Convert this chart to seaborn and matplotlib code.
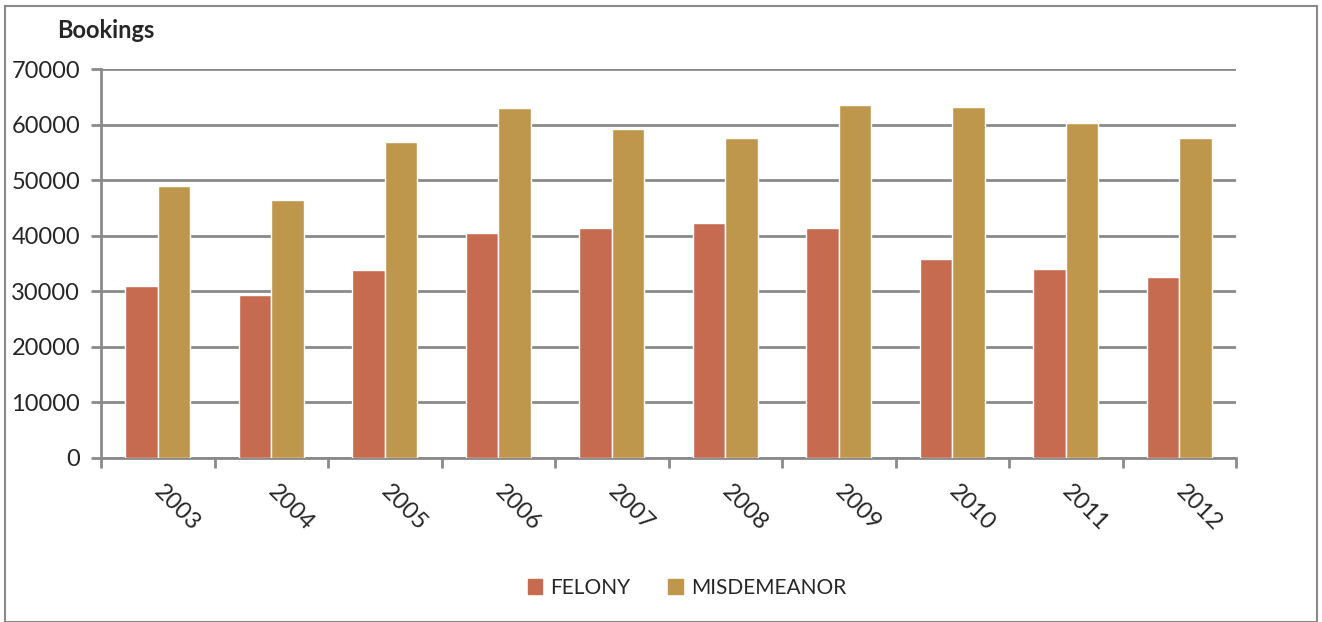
import numpy as np
import pandas as pd
import matplotlib
matplotlib.use("Agg")
import matplotlib.pyplot as plt
import matplotlib.patches as mpatches
import seaborn as sns

years = ["2003", "2004", "2005", "2006", "2007", "2008", "2009", "2010", "2011", "2012"]
felony = [31000, 29400, 33800, 40500, 41450, 42200, 41450, 35750, 33950, 32650]
misdemeanor = [49000, 46500, 56900, 63050, 59150, 57650, 63450, 63200, 60200, 57550]
series_names = ["FELONY", "MISDEMEANOR"]
colors = ["#C66A50", "#BF974C"]

df = pd.DataFrame({
    "year": years * 2,
    "bookings": felony + misdemeanor,
    "type": [series_names[0]] * len(years) + [series_names[1]] * len(years),
})

sns.set_style("white")
plt.rcParams["font.family"] = ["Lato", "DejaVu Sans"]

fig = plt.figure(figsize=(13.22, 6.22), dpi=100)
ax = fig.add_axes([101 / 1322, 1 - 458 / 622, 1135 / 1322, 389 / 622])

sns.barplot(data=df, x="year", y="bookings", hue="type", palette=colors,
            width=0.57, gap=0, saturation=1, ax=ax, legend=False, zorder=3)

ax.set_ylim(0, 70000)
ax.set_xlim(-0.5, len(years) - 0.5)
ax.set_yticks(np.arange(0, 70001, 10000))
ax.set_xlabel("")
ax.set_ylabel("")

# grid and spines
ax.grid(axis="y", color="#8a8a8a", linewidth=2, zorder=0)
ax.grid(axis="x", visible=False)
for s in ["top", "right"]:
    ax.spines[s].set_visible(False)
for s in ["left", "bottom"]:
    ax.spines[s].set_color("#8a8a8a")
    ax.spines[s].set_linewidth(2)

ax.tick_params(axis="y", which="major", left=True, length=7, width=2, color="#8a8a8a",
               labelsize=17, pad=8)
ax.set_xticks(np.arange(-0.5, len(years), 1), minor=True)
ax.tick_params(axis="x", which="minor", bottom=True, length=7, width=2, color="#8a8a8a")
ax.tick_params(axis="x", which="major", bottom=False, length=0, labelsize=17, pad=22)
for lbl in ax.get_xticklabels():
    lbl.set_rotation(-45)
    lbl.set_ha("left")
    lbl.set_va("center")
    lbl.set_rotation_mode("anchor")

fig.text(57 / 1322, 1 - 30 / 622, "Bookings", fontsize=17, fontweight="bold", va="center", ha="left")

handles = [mpatches.Patch(color=c, label=n) for c, n in zip(colors, series_names)]
fig.legend(handles=handles, loc="center", bbox_to_anchor=(687 / 1322, 1 - 588 / 622),
           ncol=2, frameon=False, fontsize=15, handlelength=0.7, handleheight=0.7,
           handletextpad=0.4, columnspacing=1.8)

border = mpatches.Rectangle((5 / 1322, 0), 1312 / 1322, 1 - 6 / 622, transform=fig.transFigure,
                            fill=False, edgecolor="#8a8a8a", linewidth=1.5)
fig.patches.append(border)

fig.savefig("out.png", dpi=100)
